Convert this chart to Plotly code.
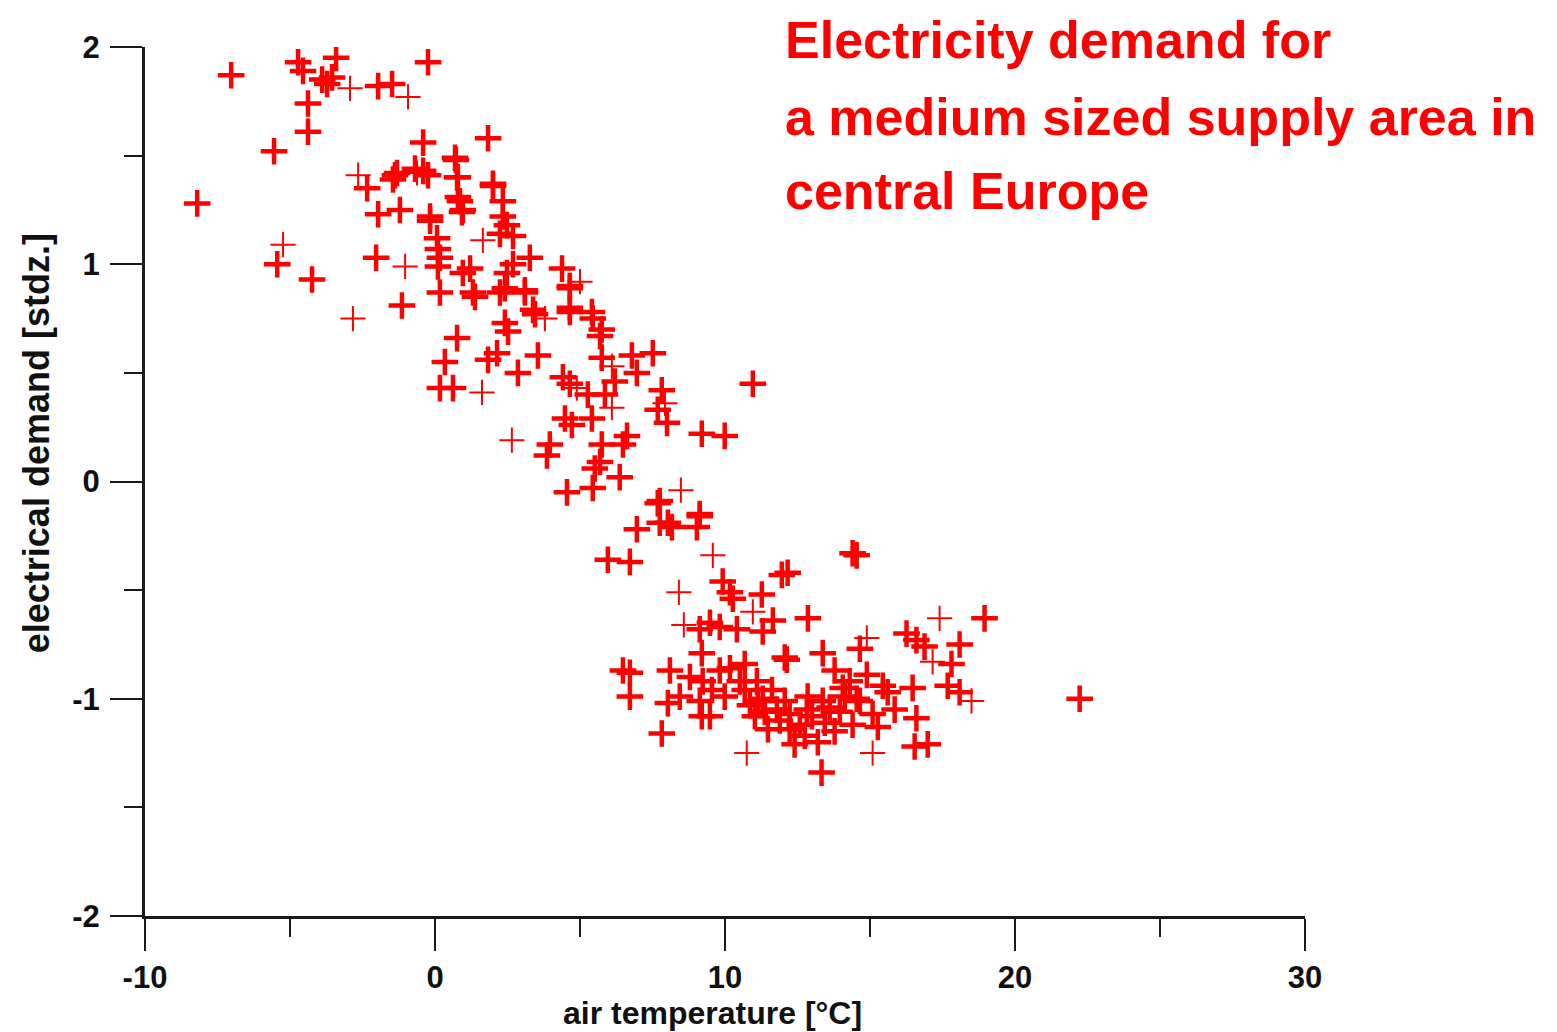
import plotly.graph_objects as go

# air temperature [°C] and electrical demand [stdz.] — heavy crosses
temp_thick = [
    -7.03, -8.2, -4.72, -3.41, -4.55, -3.89, -3.72, -3.55, -1.96, -1.48, -0.24, -4.38, -4.38, -5.55,
    -5.44, -4.24, -2.03, -1.14, -1.96, -2.34, -1.21, -1.31, -1.45, -0.41, -0.41, -0.24, -0.69, -0.17,
    0.69, 0.76, 0.86, 1.83, 2.0, 0.93,
    0.72, -1.38, 0.79, 2.0, 0.79, 2.34, 0.96, -0.17, 2.34, 2.48, 2.24, 0.07, 2.69, 0.1, 0.17, 0.1,
    1.21, 0.96, 3.27, 2.69, 4.38, 2.48, 3.10, 2.41, 1.31, 0.17, 3.38, 4.65, 4.65, 5.41,
    1.38, 2.24, 3.10, 4.65, 2.41, 2.52, 3.45, 4.65, 5.44, 5.75, 0.76, 1.83, 2.14, 2.86, 3.55, 4.41,
    4.65, 5.75, 6.79, 6.96, 7.51, 7.82, 8.0, 9.2, 4.48, 4.72, 5.41, 5.86, 3.96, 3.86, 6.62, 6.48,
    5.75, 5.69, 5.51, 6.37, 4.55, 5.44, 0.62, 0.17, 0.34,
    9.99, 10.96, 7.75, 9.13, 6.96, 7.75, 8.17, 9.03,
    7.68, 9.13, 8.03, 5.96, 6.72, 12.16, 11.96, 14.4, 14.54, 9.92, 10.17, 10.27, 11.27, 9.48, 9.13,
    9.82, 11.65, 11.3, 10.41, 9.2, 6.48, 6.72, 6.72, 8.1, 8.03, 8.79, 9.23, 7.82, 8.44, 9.2, 9.48,
    10.17, 11.1, 12.13, 13.37, 11.3, 11.79, 12.23, 12.82, 13.37, 14.06, 14.54, 15.09, 15.44,
    18.95, 16.26, 16.6, 16.88, 18.09, 14.65, 12.86, 12.06, 17.81, 16.47, 17.68, 18.09, 13.78, 14.89,
    15.61, 15.85, 15.27, 16.6, 16.54, 16.99, 13.33, 22.23,
    10.68, 10.86, 11.03, 11.37, 11.62, 11.89, 12.06, 12.4, 12.58, 12.75, 13.0, 13.2, 13.44, 13.61,
    13.78, 13.96, 14.13, 14.3, 14.4, 14.65, 12.85, 12.23, 11.48, 11.13, 10.51, 9.99, 9.82, 10.68,
    9.13, 9.55, 5.69, 6.2, 7.68, 5.27,
]
demand_thick = [
    1.87, 1.28, 1.93, 1.95, 1.89, 1.85, 1.83, 1.86, 1.82, 1.83, 1.93, 1.74, 1.61, 1.52,
    1.0, 0.93, 1.03, 0.81, 1.23, 1.35, 1.25, 1.42, 1.39, 1.56, 1.43, 1.41, 1.44, 1.20,
    1.49, 1.40, 1.29, 1.58, 1.36, 1.24,
    1.48, 1.41, 1.40, 1.37, 1.31, 1.29, 1.25, 1.22, 1.22, 1.18, 1.14, 1.12, 1.13, 1.07, 1.03, 0.99,
    0.98, 0.96, 1.03, 1.0, 0.98, 0.96, 0.88, 0.89, 0.87, 0.87, 0.79, 0.89, 0.80, 0.78,
    0.85, 0.87, 0.87, 0.90, 0.73, 0.69, 0.77, 0.78, 0.75, 0.70, 0.66, 0.56, 0.59, 0.50, 0.58, 0.48,
    0.45, 0.57, 0.58, 0.50, 0.59, 0.42, 0.27, 0.22, 0.29, 0.26, 0.29, 0.40, 0.17, 0.12, 0.21, 0.17,
    0.17, 0.09, 0.06, 0.02, -0.05, -0.03, 0.43, 0.43, 0.55,
    0.21, 0.45, -0.09, -0.15, -0.22, -0.19, -0.21, -0.21,
    -0.10, -0.16, -0.19, -0.36, -0.37, -0.42, -0.43, -0.33, -0.34, -0.46, -0.51, -0.54, -0.52, -0.65, -0.68,
    -0.67, -0.64, -0.69, -0.68, -0.79, -0.87, -0.88, -0.99, -0.87, -1.02, -0.90, -0.92, -1.16, -0.99, -1.08, -1.08,
    -0.86, -0.92, -0.82, -0.79, -1.0, -1.05, -1.07, -1.05, -1.01, -0.95, -1.0, -1.07, -0.94,
    -0.63, -0.70, -0.73, -0.76, -0.75, -0.77, -0.63, -0.81, -0.84, -0.95, -0.94, -0.97, -0.87, -0.89,
    -0.97, -1.05, -1.13, -1.09, -1.22, -1.21, -1.34, -1.0,
    -0.96, -1.03, -1.08, -1.06, -0.96, -1.10, -1.01, -1.21, -1.12, -1.17, -1.08, -1.20, -1.11, -1.04,
    -1.15, -1.06, -0.99, -0.92, -1.12, -1.01, -0.99, -1.14, -1.14, -1.01, -0.92, -0.99, -0.87, -0.84,
    -1.01, -0.96, 0.67, 0.46, 0.33, 0.40,
]

# light crosses
temp_thin = [
    -2.93, -0.93, -2.65, -0.62, -5.24, -1.03, -2.83, 1.65, 5.0, 3.79, 1.62, 4.89, 6.1, 7.93, 6.1,
    2.65, 8.48, 9.58, 8.41, 8.58, 10.96, 10.75, 17.4, 14.89, 17.16, 18.5, 15.09,
]
demand_thin = [
    1.81, 1.77, 1.41, 1.42, 1.09, 0.99, 0.75, 1.11, 0.92, 0.75, 0.41, 0.43, 0.53, 0.36, 0.34,
    0.19, -0.04, -0.34, -0.51, -0.66, -0.60, -1.25, -0.63, -0.72, -0.83, -1.01, -1.25,
]

x_ticks = [-10, 0, 10, 20, 30]
y_ticks = [-2, -1, 0, 1, 2]
title_lines = ["Electricity demand for", "a medium sized supply area in", "central Europe"]
x_title = "air temperature [°C]"
y_title = "electrical demand [stdz.]"

RED = "#ff0000"
INK = "#111111"
FONT = "Liberation Sans, Arial, sans-serif"

fig = go.Figure()
fig.add_trace(go.Scatter(
    x=temp_thick, y=demand_thick, mode="markers",
    marker=dict(symbol="cross-thin", size=19, color=RED, line=dict(color=RED, width=4.5)),
    showlegend=False,
))
fig.add_trace(go.Scatter(
    x=temp_thin, y=demand_thin, mode="markers",
    marker=dict(symbol="cross-thin", size=18, color=RED, line=dict(color=RED, width=2)),
    showlegend=False,
))

axis_common = dict(
    showgrid=False, zeroline=False, showline=True, linecolor="#1a1a1a", linewidth=3,
    ticks="outside", tickcolor="#1a1a1a", tickwidth=2, ticklen=32, automargin=False,
    tickfont=dict(family=FONT, size=31, color=INK, weight="bold"),
)

fig.update_xaxes(
    range=[-10, 30], tickvals=x_ticks, ticktext=[str(v) for v in x_ticks],
    minor=dict(dtick=5, tick0=-10, ticklen=18, tickwidth=2, tickcolor="#1a1a1a", ticks="outside", showgrid=False),
    ticklabelstandoff=0,
    **axis_common,
)
fig.update_yaxes(
    range=[-2, 2], tickvals=y_ticks, ticktext=[str(v) for v in y_ticks],
    minor=dict(dtick=0.5, tick0=-2, ticklen=18, tickwidth=2, tickcolor="#1a1a1a", ticks="outside", showgrid=False),
    ticklabelstandoff=4,
    **axis_common,
)

# axis titles (placed as in the reference: slightly off-centre)
fig.add_annotation(
    text=x_title, xref="paper", yref="paper", x=0.489, y=-0.1116,
    xanchor="center", yanchor="middle", showarrow=False,
    font=dict(family=FONT, size=32, color=INK, weight="bold"),
)
fig.add_annotation(
    text=y_title, xref="paper", yref="paper", x=-0.094, y=0.544,
    xanchor="center", yanchor="middle", showarrow=False, textangle=-90,
    font=dict(family=FONT, size=36, color=INK, weight="bold"),
)

title_y = [1.008, 0.920, 0.834]
for line, yy in zip(title_lines, title_y):
    fig.add_annotation(
        text=line, xref="paper", yref="paper", x=0.55, y=yy,
        xanchor="left", yanchor="middle", showarrow=False,
        font=dict(family=FONT, size=52, color=RED, weight="bold"),
    )

# the page body adds an 8px offset, so the figure is shrunk by that amount
fig.update_layout(
    width=1549, height=1024,
    margin=dict(l=137, r=252, t=39, b=116),
    plot_bgcolor="white", paper_bgcolor="white",
)

fig.write_html("out.html")
